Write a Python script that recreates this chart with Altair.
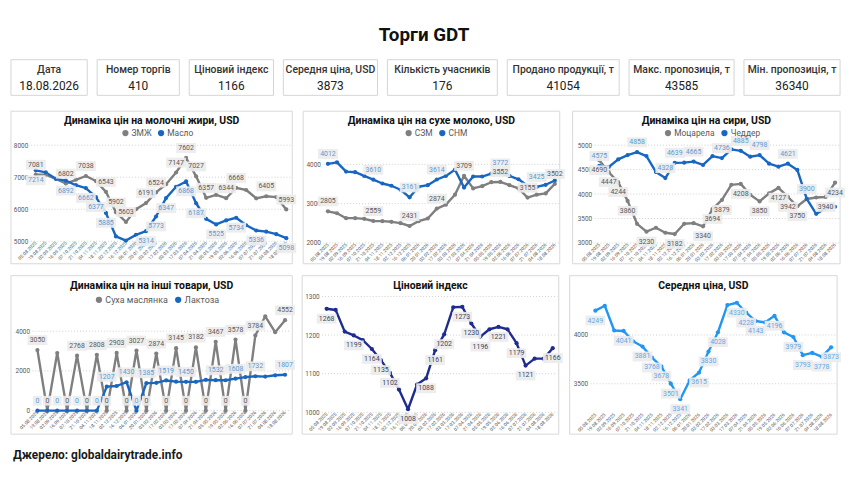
import altair as alt
import pandas as pd

dates = ["05.08.2025", "19.08.2025", "02.09.2025", "16.09.2025", "07.10.2025", "21.10.2025",
         "04.11.2025", "18.11.2025", "02.12.2025", "16.12.2025", "06.01.2026", "20.01.2026",
         "03.02.2026", "17.02.2026", "03.03.2026", "17.03.2026", "07.04.2026", "21.04.2026",
         "05.05.2026", "19.05.2026", "02.06.2026", "16.06.2026", "07.07.2026", "21.07.2026",
         "04.08.2026", "18.08.2026"]

kpi_labels = ["Дата", "Номер торгів", "Ціновий індекс", "Середня ціна, USD",
              "Кількість учасників", "Продано продукції, т", "Макс. пропозиція, т", "Мін. пропозиція, т"]
kpi_values = ["18.08.2026", "410", "1166", "3873", "176", "41054", "43585", "36340"]

# Молочні жири
amf = [7081, 7081, 6950, 6802, 6920, 7038, 6880, 6543, 5902, 5603, 6000, 6191, 6524,
       6780, 7147, 7602, 7027, 6357, 6450, 6344, 6668, 6600, 6340, 6405, 6380, 5993]
amf_lbl = [0, 3, 5, 7, 8, 9, 11, 12, 14, 15, 16, 17, 19, 20, 23, 25]
butter = [7214, 7150, 6950, 6892, 6750, 6662, 6377, 5885, 5150, 5022, 5200, 5314, 5773,
          6347, 6700, 6868, 6187, 5700, 5525, 5650, 5734, 5500, 5336, 5300, 5220, 5098]
butter_lbl = [0, 3, 5, 6, 7, 11, 12, 13, 15, 16, 18, 20, 22, 25]

# Сухе молоко
smp = [2805, 2756, 2630, 2630, 2613, 2559, 2555, 2538, 2504, 2431, 2555, 2622, 2874,
       2975, 3227, 3709, 3387, 3445, 3545, 3552, 3470, 3387, 3155, 3227, 3260, 3502]
smp_lbl = [0, 5, 9, 12, 15, 19, 22, 25]
wmp = [4012, 4050, 3815, 3800, 3705, 3610, 3513, 3455, 3353, 3161, 3430, 3470, 3614,
       3705, 3865, 3410, 3690, 3690, 3765, 3772, 3705, 3620, 3455, 3425, 3480, 3590]
wmp_lbl = [0, 5, 9, 12, 19, 23]

# Сири
mozz = [4690, 4447, 4244, 3860, 3392, 3230, 3311, 3209, 3182, 3392, 3405, 3340, 3694,
        3879, 4189, 4208, 3986, 3850, 4014, 4127, 3942, 3750, 3900, 3930, 3940, 4234]
mozz_lbl = [0, 1, 2, 3, 5, 8, 11, 12, 13, 15, 17, 19, 20, 21, 24, 25]
ched = [4575, 4554, 4709, 4797, 4858, 4777, 4453, 4328, 4639, 4642, 4665, 4595, 4777,
        4736, 4915, 4885, 4764, 4798, 4622, 4561, 4621, 4493, 3900, 3595, 3710, 3740]
ched_lbl = [0, 4, 7, 8, 10, 13, 15, 17, 20, 22]

# Інші товари
bmp = [3050, 0, 2900, 0, 2768, 0, 2808, 0, 2903, 0, 3027, 0, 2874,
       0, 3145, 0, 3182, 0, 3467, 0, 3578, 0, 3784, 4750, 3950, 4552]
bmp_lbl = [0, 1, 3, 4, 5, 6, 7, 8, 9, 10, 11, 12, 13, 14, 15, 16, 17, 18, 19, 20, 21, 22, 25]
lact = [0, 0, 0, 0, 0, 0, 0, 1207, 1240, 1430, 0, 1385, 1400,
        1519, 1460, 1450, 1450, 1550, 1532, 1530, 1608, 1690, 1732, 1715, 1780, 1807]
lact_lbl = [0, 2, 4, 6, 7, 9, 10, 11, 13, 15, 18, 20, 22, 25]

# Ціновий індекс
gdt_index = [1268, 1265, 1209, 1199, 1187, 1164, 1135, 1102, 1059, 1008, 1072, 1088, 1161,
             1202, 1272, 1273, 1230, 1196, 1215, 1221, 1215, 1179, 1121, 1139, 1139, 1166]
gdt_index_lbl = [0, 3, 5, 6, 7, 9, 11, 12, 13, 15, 16, 17, 19, 21, 22, 25]

# Середня ціна
avg_price = [4249, 4299, 4046, 4041, 3935, 3881, 3768, 3678, 3501, 3341, 3534, 3615, 3830,
             4028, 4306, 4330, 4228, 4143, 4129, 4196, 4027, 3979, 3793, 3816, 3778, 3873]
avg_price_lbl = [0, 3, 5, 6, 7, 8, 9, 11, 12, 13, 15, 16, 17, 19, 21, 22, 24, 25]

FONT = "Roboto"
AX = "#595959"
GRAY = "#7f7f7f"
BLUE = "#1767c2"
NAVY = "#1f2c8f"
LBLUE = "#2196f3"
GRAY_T = "#595959"
BLUE_T = "#5b9bd5"
BOXC = "#ececec"
GRIDC = "#cfcfcf"
BOX4 = "M-1,-0.5L1,-0.5L1,0.5L-1,0.5Z"
BOX1 = "M-1,-1.1L1,-1.1L1,1.1L-1,1.1Z"


def long_df(series):
    rows = []
    for name, vals, lbls in series:
        for i, v in enumerate(vals):
            rows.append({"date": dates[i], "series": name, "value": v,
                         "lbl": str(v) if i in lbls else ""})
    return pd.DataFrame(rows)


def text_width(s, fs):
    w = 0.0
    for ch in s:
        if ch == " ":
            w += 0.26 * fs
        elif ch.isupper():
            w += 0.64 * fs
        else:
            w += 0.52 * fs
    return w


def panel(title, series, colors, lstyles, ydom, yticks, FW, FH, L, W, T, H,
          title_dy, legend_dy, legend=True, legend_fs=8.5):
    B = FH - T - H
    df = long_df(series)
    names = [s[0] for s in series]
    one = pd.DataFrame({"t": [title]})
    frame = alt.Chart(one).mark_rect(fill="white", fillOpacity=0, stroke="#d9d9d9",
                                     strokeWidth=1).encode(
        x=alt.value(0), x2=alt.value(FW), y=alt.value(0), y2=alt.value(FH))
    ttl = alt.Chart(one).mark_text(font=FONT, fontSize=10.5, fontWeight="bold",
                                   color="#111111").encode(
        x=alt.value(FW / 2), y=alt.value(title_dy), text="t:N")
    xsc = alt.Scale(type="point", padding=0.5, range=[L, L + W])
    ysc = alt.Scale(domain=ydom, nice=False, zero=False, range=[T + H, T])
    xax = alt.Axis(title=None, labelAngle=-45, labelFontSize=4.8, labelColor=AX, labelFont=FONT,
                   domain=False, ticks=False, labelOverlap=False, labelPadding=1, grid=False,
                   labelAlign="right", labelBaseline="middle", offset=-B)
    yax = alt.Axis(title=None, values=yticks, labelFontSize=6.5, labelColor=AX, labelFont=FONT,
                   domain=False, ticks=False, grid=False, labelPadding=3, offset=-L, format="d")
    X = alt.X("date:O", sort=dates, scale=xsc, axis=xax)
    base = alt.Chart(df).encode(x=X, y=alt.Y("value:Q", scale=ysc, axis=yax))
    grid = alt.Chart(pd.DataFrame({"v": yticks})).mark_rule(
        color=GRIDC, strokeDash=[1, 2], strokeWidth=1).encode(
        y=alt.Y("v:Q", scale=ysc, axis=yax), x=alt.value(L), x2=alt.value(L + W))
    layers = [frame, ttl, grid]
    for name, c in zip(names, colors):
        layers.append(base.transform_filter(f"datum.series == '{name}'").mark_line(
            strokeWidth=2.4, strokeJoin="round", color=c))
    if legend:
        cscale = alt.Scale(domain=names, range=colors)
        fs, sym, lo, cp = legend_fs, 6.5, 2, 5
        est = sum(sym + lo + text_width(n, fs) for n in names) + cp * (len(names) - 1)
        leg = alt.Legend(orient="none", legendX=FW / 2 - est / 2, legendY=legend_dy - 5,
                         direction="horizontal", title=None, symbolType="circle", symbolSize=40,
                         symbolStrokeWidth=0, labelFontSize=fs, labelFont=FONT, labelColor=AX,
                         labelOffset=lo, columnPadding=cp, padding=0)
        layers.append(base.mark_circle(size=18, opacity=1).encode(
            color=alt.Color("series:N", scale=cscale, legend=leg)))
    else:
        layers.append(base.mark_circle(size=18, opacity=1, color=colors[0]))
    for name, tcol, dy in lstyles:
        sub = base.transform_filter(f"datum.series == '{name}' && datum.lbl != ''")
        layers.append(sub.transform_filter("length(datum.lbl) > 1").mark_point(
            shape=BOX4, size=400, filled=True, fill=BOXC, opacity=0.92, strokeOpacity=0, yOffset=dy))
        layers.append(sub.transform_filter("length(datum.lbl) == 1").mark_point(
            shape=BOX1, size=81, filled=True, fill=BOXC, opacity=0.92, strokeOpacity=0, yOffset=dy))
        layers.append(sub.mark_text(font=FONT, fontSize=7, color=tcol, dy=dy).encode(text="lbl:N"))
    return alt.layer(*layers).properties(width=FW, height=FH)


p1 = panel("Динаміка цін на молочні жири, USD",
           [("ЗМЖ", amf, amf_lbl), ("Масло", butter, butter_lbl)], [GRAY, BLUE],
           [("ЗМЖ", GRAY_T, -10), ("Масло", BLUE_T, 10)],
           [5000, 8000], [5000, 6000, 7000, 8000],
           FW=284, FH=154, L=20, W=263, T=34.3, H=97, title_dy=9.7, legend_dy=22.7)
p2 = panel("Динаміка цін на сухе молоко, USD",
           [("СЗМ", smp, smp_lbl), ("СНМ", wmp, wmp_lbl)], [GRAY, BLUE],
           [("СЗМ", GRAY_T, -10), ("СНМ", BLUE_T, -10)],
           [2000, 4500], [2000, 3000, 4000],
           FW=259, FH=154, L=20.4, W=238.2, T=33.8, H=99.2, title_dy=9.7, legend_dy=22.7)
p3 = panel("Динаміка цін на сири, USD",
           [("Моцарела", mozz, mozz_lbl), ("Чеддер", ched, ched_lbl)], [GRAY, BLUE],
           [("Моцарела", GRAY_T, 10), ("Чеддер", BLUE_T, -10)],
           [3000, 5000], [3000, 3500, 4000, 4500, 5000],
           FW=270, FH=154, L=22.2, W=247.5, T=34.3, H=98.7, title_dy=9.7, legend_dy=22.7)
p4 = panel("Динаміка цін на інші товари, USD",
           [("Суха маслянка", bmp, bmp_lbl), ("Лактоза", lact, lact_lbl)], [GRAY, BLUE],
           [("Суха маслянка", GRAY_T, -10), ("Лактоза", BLUE_T, -10)],
           [0, 5000], [0, 2000, 4000],
           FW=284, FH=160, L=21.7, W=260, T=36, H=100.3, title_dy=10.3, legend_dy=24.7,
           legend_fs=9)
p5 = panel("Ціновий індекс",
           [("Індекс", gdt_index, gdt_index_lbl)], [NAVY],
           [("Індекс", "#404660", 10)],
           [1000, 1300], [1000, 1100, 1200, 1300],
           FW=259, FH=160, L=20.1, W=237.4, T=21, H=117, title_dy=10.3, legend_dy=0, legend=False)
p6 = panel("Середня ціна, USD",
           [("Ціна", avg_price, avg_price_lbl)], [LBLUE],
           [("Ціна", "#64a8e8", 10)],
           [3200, 4400], [3500, 4000],
           FW=270, FH=160, L=21.2, W=247.5, T=20.5, H=118.2, title_dy=10.3, legend_dy=0, legend=False)

box_w = [77, 83, 85, 95, 111, 113, 106, 97]


def kpi_box(label, value, w):
    one = pd.DataFrame({"l": [label], "v": [value]})
    b = alt.Chart(one)
    fr = b.mark_rect(fill="white", fillOpacity=0, stroke="#d4d4d4", strokeWidth=1).encode(
        x=alt.value(0), x2=alt.value(w), y=alt.value(0), y2=alt.value(36))
    lt = b.mark_text(font=FONT, fontSize=10.5, fontWeight=500, color="#333333").encode(
        x=alt.value(w / 2), y=alt.value(10.5), text="l:N")
    vt = b.mark_text(font=FONT, fontSize=12, color="#222222").encode(
        x=alt.value(w / 2), y=alt.value(26.5), text="v:N")
    return alt.layer(fr, lt, vt).properties(width=w, height=36)


def indep(c):
    return c.resolve_scale(color="independent").resolve_legend(color="independent")


kpi_row = alt.hconcat(*[kpi_box(l, v, w) for l, v, w in zip(kpi_labels, kpi_values, box_w)],
                      spacing=8)

title_chart = alt.Chart(pd.DataFrame({"t": ["Торги GDT"]})).mark_text(
    font=FONT, fontSize=19, fontWeight="bold", color="#111111").encode(
    x=alt.value(417), y=alt.value(25), text="t:N").properties(width=825, height=44)

footer = alt.Chart(pd.DataFrame({"t": ["Джерело: globaldairytrade.info"]})).mark_text(
    font=FONT, fontSize=12, fontWeight="bold", color="#1a1a1a", align="left").encode(
    x=alt.value(2), y=alt.value(6), text="t:N").properties(width=300, height=14)

header = alt.vconcat(title_chart, kpi_row, spacing=5)
row1 = indep(alt.hconcat(p1, p2, p3, spacing=6))
row2 = indep(alt.hconcat(p4, p5, p6, spacing=6))
rows = indep(alt.vconcat(row1, row2, spacing=10))

chart = indep(alt.vconcat(header, rows, footer, spacing=14)).properties(
    background="white", padding={"left": 2, "top": 0, "right": 2, "bottom": 2}
).configure_view(strokeWidth=0)

chart.save("out.html", embed_options={"renderer": "svg", "actions": False})
